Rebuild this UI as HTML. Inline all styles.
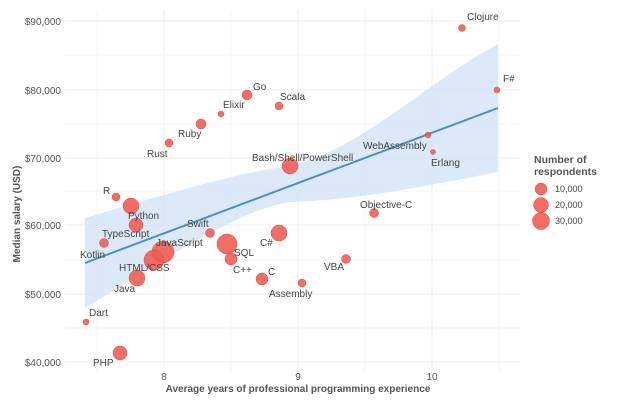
<!DOCTYPE html>
<html><head><meta charset="utf-8"><style>
body{margin:0;background:#fff;}
svg{display:block;font-family:"Liberation Sans",sans-serif;}
.t{font-size:10px;fill:#444;}
.a{font-size:10px;fill:#555;}
.p{fill:#f05a50;fill-opacity:0.88;stroke:#e04a40;stroke-width:0.5}
</style></head><body>
<svg width="640" height="410" viewBox="0 0 640 410">
<g stroke="#eeeeee" stroke-width="1">
<line x1="65" y1="21" x2="520" y2="21"/><line x1="65" y1="90" x2="520" y2="90"/><line x1="65" y1="158" x2="520" y2="158"/><line x1="65" y1="225" x2="520" y2="225"/><line x1="65" y1="294" x2="520" y2="294"/><line x1="65" y1="362" x2="520" y2="362"/>
<line x1="164" y1="10" x2="164" y2="372"/><line x1="298" y1="10" x2="298" y2="372"/><line x1="432" y1="10" x2="432" y2="372"/>
</g>
<g stroke="#f6f6f6" stroke-width="1">
<line x1="65" y1="55" x2="520" y2="55"/><line x1="65" y1="124" x2="520" y2="124"/><line x1="65" y1="191" x2="520" y2="191"/><line x1="65" y1="260" x2="520" y2="260"/><line x1="65" y1="328" x2="520" y2="328"/>
<line x1="97" y1="10" x2="97" y2="372"/><line x1="231" y1="10" x2="231" y2="372"/><line x1="365" y1="10" x2="365" y2="372"/><line x1="499" y1="10" x2="499" y2="372"/>
</g>
<path d="M85,218 C180,190 240,172 290,166 C360,150 430,80 498,44 L498,172 C430,185 360,200 290,202 C240,210 180,250 85,308 Z" fill="#cfe1f7" fill-opacity="0.75"/>
<line x1="85" y1="263" x2="498" y2="108" stroke="#4a90c8" stroke-width="2"/>
<g class="p">
<circle cx="462" cy="28" r="3.5"/><circle cx="497" cy="90" r="3"/><circle cx="247" cy="95" r="5"/><circle cx="279" cy="106" r="4"/><circle cx="221" cy="114" r="3"/><circle cx="201" cy="124" r="5"/><circle cx="169" cy="143" r="4"/><circle cx="290" cy="166" r="8"/><circle cx="428" cy="135" r="3"/><circle cx="433" cy="152" r="2.5"/><circle cx="116" cy="197" r="4"/><circle cx="131" cy="206" r="8"/><circle cx="374" cy="213" r="4.5"/><circle cx="210" cy="233" r="4.5"/><circle cx="104" cy="243" r="4.5"/><circle cx="136" cy="225" r="7"/><circle cx="163" cy="252" r="11"/><circle cx="227" cy="244" r="10"/><circle cx="154" cy="260" r="10"/><circle cx="279" cy="233" r="8"/><circle cx="231" cy="259" r="6"/><circle cx="346" cy="259" r="4.5"/><circle cx="137" cy="278" r="8"/><circle cx="262" cy="279" r="6"/><circle cx="302" cy="283" r="4"/><circle cx="86" cy="322" r="3"/><circle cx="120" cy="353" r="7"/>
</g>
<g class="t">
<text x="467" y="20">Clojure</text><text x="503" y="82">F#</text><text x="253" y="90">Go</text><text x="280" y="100">Scala</text><text x="223" y="108">Elixir</text><text x="178" y="137">Ruby</text><text x="147" y="157">Rust</text><text x="252" y="161">Bash/Shell/PowerShell</text><text x="363" y="149">WebAssembly</text><text x="431" y="166">Erlang</text><text x="103" y="194">R</text><text x="128" y="219">Python</text><text x="360" y="208">Objective-C</text><text x="187" y="227">Swift</text><text x="102" y="237">TypeScript</text><text x="156" y="246">JavaScript</text><text x="234" y="256">SQL</text><text x="80" y="258">Kotlin</text><text x="119" y="271">HTML/CSS</text><text x="260" y="246">C#</text><text x="233" y="273">C++</text><text x="268" y="275">C</text><text x="324" y="270">VBA</text><text x="114" y="292">Java</text><text x="269" y="297">Assembly</text><text x="89" y="316">Dart</text><text x="93" y="366">PHP</text>
</g>
<g class="a" text-anchor="end">
<text x="61" y="25">$90,000</text><text x="61" y="94">$80,000</text><text x="61" y="162">$70,000</text><text x="61" y="229">$60,000</text><text x="61" y="298">$50,000</text><text x="61" y="366">$40,000</text>
</g>
<g class="a" text-anchor="middle">
<text x="164" y="380">8</text><text x="298" y="380">9</text><text x="432" y="380">10</text>
</g>
<text x="298" y="392" text-anchor="middle" font-size="10" font-weight="bold" fill="#555">Average years of professional programming experience</text>
<text transform="translate(20,214) rotate(-90)" text-anchor="middle" font-size="10" font-weight="bold" fill="#555">Median salary (USD)</text>
<text x="534" y="163" font-size="10.5" font-weight="bold" fill="#555">Number of</text>
<text x="534" y="175" font-size="10.5" font-weight="bold" fill="#555">respondents</text>
<g class="p"><circle cx="541" cy="189" r="6"/><circle cx="541" cy="205" r="7.5"/><circle cx="541" cy="221" r="8.5"/></g>
<g font-size="9" fill="#444"><text x="555" y="192">10,000</text><text x="555" y="208">20,000</text><text x="555" y="224">30,000</text></g>
</svg>
</body></html>
